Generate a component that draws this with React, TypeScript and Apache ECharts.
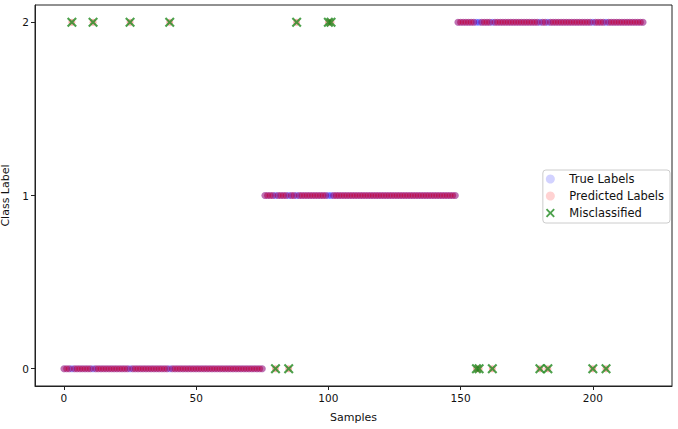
import React, { useEffect, useRef } from "react";
import * as echarts from "echarts";

// true label runs: [label, number of consecutive samples]
const trueLabelRuns: [number, number][] = [
  [0, 76],
  [1, 73],
  [2, 71],
];
// misclassified samples: index and predicted label
const misclassifiedIdx = [3, 11, 25, 40, 80, 85, 88, 100, 101, 156, 157, 162, 180, 183, 200, 205];
const misclassifiedPred = [2, 2, 2, 2, 0, 0, 2, 2, 2, 0, 0, 0, 0, 0, 0, 0];

const xTicks = [0, 50, 100, 150, 200];
const yTicks = [0, 1, 2];

const X_PATH =
  "path://M1.5,0 L5,3.5 L8.5,0 L10,1.5 L6.5,5 L10,8.5 L8.5,10 L5,6.5 L1.5,10 L0,8.5 L3.5,5 L0,1.5 Z";

export default function App() {
  const ref = useRef<HTMLDivElement>(null);
  useEffect(() => {
    if (!ref.current) return;
    const chart = echarts.init(ref.current, undefined, { renderer: "svg" });

    const trueLabels: number[] = [];
    trueLabelRuns.forEach(([lab, n]) => {
      for (let k = 0; k < n; k++) trueLabels.push(lab);
    });
    const predLabels = trueLabels.slice();
    misclassifiedIdx.forEach((idx, k) => {
      predLabels[idx] = misclassifiedPred[k];
    });

    const trueData = trueLabels.map((v, i) => [i, v]);
    const predData = predLabels.map((v, i) => [i, v]);
    const misData = misclassifiedIdx.map((idx, k) => [idx, misclassifiedPred[k]]);

    const font = "DejaVu Sans";
    chart.setOption({
      animation: false,
      grid: {
        left: 35,
        right: 6,
        top: 5,
        bottom: 43,
        outerBoundsMode: "none",
        containLabel: false,
        show: true,
        borderColor: "#222",
        borderWidth: 1,
        backgroundColor: "transparent",
      },
      legend: {
        orient: "vertical",
        right: 8,
        top: 170,
        itemWidth: 28,
        itemHeight: 9,
        itemGap: 3,
        padding: [2, 6, 3, 3],
        borderColor: "#ccc",
        borderWidth: 1,
        borderRadius: 3,
        backgroundColor: "rgba(255,255,255,0.8)",
        textStyle: { fontFamily: font, fontSize: 11.5, color: "#111", lineHeight: 14 },
        data: [
          { name: "True Labels", icon: "circle", itemStyle: { color: "rgba(0,0,255,0.22)" } },
          { name: "Predicted Labels", icon: "circle", itemStyle: { color: "rgba(255,0,0,0.22)" } },
          { name: "Misclassified", icon: X_PATH },
        ],
      },
      xAxis: {
        type: "value",
        min: -10.95,
        max: 229.95,
        name: "Samples",
        nameLocation: "middle",
        nameGap: 26,
        nameTextStyle: { fontFamily: font, fontSize: 11, color: "#111" },
        splitLine: { show: false },
        axisLine: { show: true, onZero: false, lineStyle: { color: "#222" } },
        axisTick: { show: true, length: 4, customValues: xTicks, lineStyle: { color: "#222" } },
        axisLabel: {
          customValues: xTicks,
          fontFamily: font,
          fontSize: 10.5,
          color: "#111",
          margin: 6,
        },
      },
      yAxis: {
        type: "value",
        min: -0.1,
        max: 2.1,
        name: "Class Label",
        nameLocation: "middle",
        nameGap: 19,
        nameTextStyle: { fontFamily: font, fontSize: 11, color: "#111" },
        splitLine: { show: false },
        axisLine: { show: true, onZero: false, lineStyle: { color: "#222" } },
        axisTick: { show: true, length: 4, customValues: yTicks, lineStyle: { color: "#222" } },
        axisLabel: {
          customValues: yTicks,
          fontFamily: font,
          fontSize: 10.5,
          color: "#111",
          margin: 6,
        },
      },
      series: [
        {
          name: "True Labels",
          type: "scatter",
          data: trueData,
          symbol: "circle",
          symbolSize: 7,
          itemStyle: { color: "rgba(0,0,255,0.45)" },
          emphasis: { disabled: true },
        },
        {
          name: "Predicted Labels",
          type: "scatter",
          data: predData,
          symbol: "circle",
          symbolSize: 7,
          itemStyle: { color: "rgba(255,0,0,0.38)" },
          emphasis: { disabled: true },
        },
        {
          name: "Misclassified",
          type: "scatter",
          data: misData,
          symbol: X_PATH,
          symbolSize: 10,
          itemStyle: { color: "#1f8a1f" },
          emphasis: { disabled: true },
        },
      ],
    });
    return () => chart.dispose();
  }, []);
  return (
    <div
      ref={ref}
      style={{ position: "fixed", left: 0, top: 0, width: 678, height: 429, background: "#fff" }}
    />
  );
}
